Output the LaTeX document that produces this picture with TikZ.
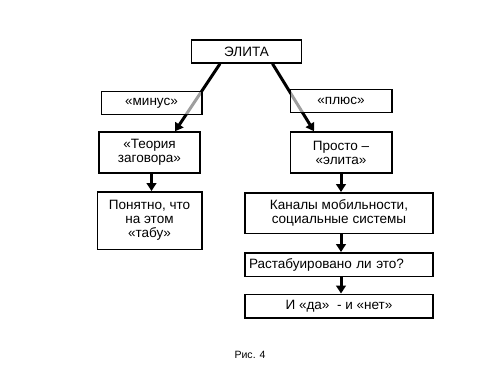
\documentclass[tikz,border=0pt]{standalone}
\usepackage{fontspec}
\setmainfont{Liberation Sans}
\usetikzlibrary{arrows.meta,calc}

\begin{document}
\begin{tikzpicture}[>={Triangle[length=4.5pt,width=5.5pt]},font=\fontsize{7.7}{8}\selectfont,
  box/.style={draw,line width=0.85pt,align=center,inner sep=1pt},
  tag/.style={box,fill=white,fill opacity=0.62,text opacity=1},
  link/.style={->,line width=1.7pt}]
\useasboundingbox (0,0) rectangle (10,7.5);
\node[box,minimum width=2.2cm,minimum height=0.46cm] (elita) at (4.93,6.47) {ЭЛИТА};
\node[box,minimum width=2.02cm,minimum height=0.82cm] (teoria) at (2.99,4.45) {«Теория\\заговора»};
\node[box,minimum width=2.03cm,minimum height=0.82cm] (prosto) at (6.82,4.45) {Просто –\\«элита»};
\node[box,minimum width=2.09cm,minimum height=1.15cm] (tabu) at (2.99,3.09) {Понятно, что\\на этом\\«табу»};
\node[box,minimum width=3.76cm,minimum height=0.81cm] (kanaly) at (6.78,3.24) {Каналы мобильности,\\социальные системы};
\node[box,minimum width=3.76cm,minimum height=0.47cm,text width=3.6cm,align=left] (rastab) at (6.78,2.21) {Растабуировано ли это?};
\node[box,minimum width=3.76cm,minimum height=0.47cm] (dani) at (6.78,1.38) {И «да»~ - и «нет»};
\draw[link] ($(elita.south)+(-0.53,0)$) -- ($(teoria.north)+(0.51,0)$);
\draw[link] ($(elita.south)+(0.52,0)$) -- ($(prosto.north)+(-0.54,0)$);
\draw[link] ($(teoria.south)+(0.04,0)$) -- ($(tabu.north)+(0.04,0)$);
\draw[link] (prosto.south) -- (prosto.south |- kanaly.north);
\draw[link] (kanaly.south -| prosto.south) -- (rastab.north -| prosto.south);
\draw[link] (rastab.south -| prosto.south) -- (dani.north -| prosto.south);
\node[tag,minimum width=2.01cm,minimum height=0.45cm] (minus) at (3.03,5.44) {«минус»};
\node[tag,minimum width=2.03cm,minimum height=0.47cm] (plus) at (6.82,5.48) {«плюс»};
\node[font=\fontsize{6}{7}\selectfont] (fig) at (5.0,0.4) {Рис. 4};
\end{tikzpicture}
\end{document}
